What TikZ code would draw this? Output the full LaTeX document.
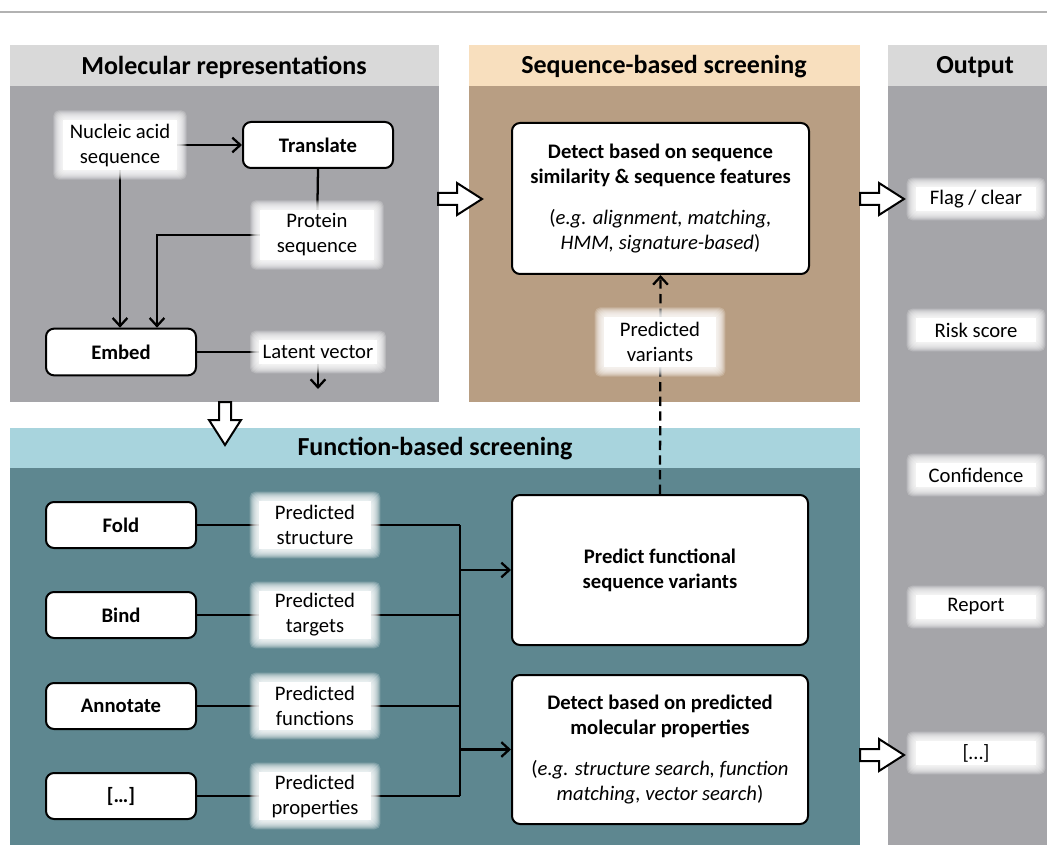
\documentclass[tikz,border=0pt]{standalone}
\usepackage{fontspec}
\setmainfont{Carlito}
\usetikzlibrary{arrows.meta,calc}
\pgfdeclarelayer{bg}\pgfdeclarelayer{lines}\pgfdeclarelayer{glowl}
\pgfsetlayers{bg,lines,glowl,main}
\definecolor{hdrgray}{RGB}{217,217,217}
\definecolor{bodygray}{RGB}{165,165,169}
\definecolor{hdrwheat}{RGB}{248,223,190}
\definecolor{bodytan}{RGB}{184,158,131}
\definecolor{hdrblue}{RGB}{168,212,221}
\definecolor{bodyteal}{RGB}{94,135,144}
\definecolor{topline}{RGB}{178,178,178}
\begin{document}
\begin{tikzpicture}[x=0.75pt,y=-0.75pt,
  hdr/.style={font=\bfseries\fontsize{19.5}{23}\selectfont},
  stepbox/.style={draw=black,line width=1.5pt,rounded corners=6pt,fill=white,
    minimum width=112.5pt,minimum height=34.5pt,align=center,
    font=\bfseries\fontsize{15.5}{18.75}\selectfont},
  bigbox/.style={draw=black,line width=1.5pt,rounded corners=6pt,fill=white,
    minimum width=222pt,minimum height=112.5pt,align=center,
    font=\fontsize{15.5}{18.75}\selectfont},
  glow/.style={fill=white,inner sep=0pt,align=center,
    font=\fontsize{15.5}{18.75}\selectfont},
  conn/.style={line width=1.7pt,draw=black},
  arr/.style={conn,-{Straight Barb[length=6pt,width=11pt]}},
  blockarr/.style={draw=black,fill=white,line width=1.5pt,line join=miter}
]
\useasboundingbox (0,0) rectangle (1047,845);
\begin{pgfonlayer}{bg}
  \fill[white] (0,0) rectangle (1047,845);
  \draw[topline,line width=1.5pt] (0,12) -- (1047,12);
  \fill[hdrgray] (10,45) rectangle (439,86);
  \fill[bodygray] (10,86) rectangle (439,402);
  \fill[hdrwheat] (469,45) rectangle (860,86);
  \fill[bodytan] (469,86) rectangle (860,402);
  \fill[hdrgray] (888,45) rectangle (1047,86);
  \fill[bodygray] (888,86) rectangle (1047,845);
  \fill[hdrblue] (10,428) rectangle (860,468);
  \fill[bodyteal] (10,468) rectangle (860,845);
\end{pgfonlayer}

% headers
\node[hdr] (hmol) at (224,67) {Molecular representations};
\node[hdr] (hseq) at (664,67) {Sequence-based screening};
\node[hdr] (hout) at (975,67) {Output};
\node[hdr] (hfun) at (435,449) {Function-based screening};

% molecular representations
\node[glow,minimum width=86pt,minimum height=38pt] (nuc) at (120,145) {Nucleic acid\\sequence};
\node[stepbox] (tr) at (318,145) {Translate};
\node[glow,minimum width=86pt,minimum height=38pt] (prot) at (317,235) {Protein\\sequence};
\node[stepbox,minimum height=35pt] (emb) at (121,352) {Embed};
\node[glow,minimum width=88pt,minimum height=18pt] (lat) at (318,352) {Latent vector};
\coordinate (latend) at (318,389);
\coordinate (pe) at (157,352);

% sequence-based
\node[bigbox,minimum width=222.75pt,minimum height=113.25pt] (sbox) at (660.5,198.5)
  {\textbf{Detect based on sequence}\\\textbf{similarity \& sequence features}\\[12pt]
   ({\itshape e.g. alignment, matching,}\\{\itshape HMM, signature-based})};
\node[glow,minimum width=84pt,minimum height=38pt] (pvar) at (660,342) {Predicted\\variants};

% function-based
\node[stepbox] (fold) at (121,525) {Fold};
\node[stepbox] (bind) at (121,615) {Bind};
\node[stepbox] (anno) at (121,706) {Annotate};
\node[stepbox] (etc) at (121,796) {[…]};
\node[glow,minimum width=84pt,minimum height=36pt] (pstr) at (315,525) {Predicted\\structure};
\node[glow,minimum width=84pt,minimum height=36pt] (ptar) at (315,615) {Predicted\\targets};
\node[glow,minimum width=84pt,minimum height=36pt] (pfun) at (315,706) {Predicted\\functions};
\node[glow,minimum width=84pt,minimum height=36pt] (ppro) at (315,796) {Predicted\\properties};
\coordinate (busT) at (460,525);
\coordinate (busB) at (460,796);
\node[bigbox] (pfv) at (660,570) {\textbf{Predict functional}\\\textbf{sequence variants}};
\node[bigbox,minimum height=111.75pt] (dpp) at (660,749.5)
  {\textbf{Detect based on predicted}\\\textbf{molecular properties}\\[12pt]
   ({\itshape e.g. structure search, function}\\{\itshape matching, vector search})};

% output
\node[glow,minimum width=90pt,minimum height=18pt] (o1) at (976,199) {Flag / clear};
\node[glow,minimum width=90pt,minimum height=18pt] (o2) at (976,330) {Risk score};
\node[glow,minimum width=90pt,minimum height=18pt] (o3) at (976,475) {Confidence};
\node[glow,minimum width=90pt,minimum height=18pt] (o4) at (976,607) {Report};
\node[glow,minimum width=90pt,minimum height=18pt] (o5) at (976,753) {[…]};

% soft white halo round the label nodes
\begin{pgfonlayer}{glowl}
  \foreach \n in {nuc,prot,lat,pvar,pstr,ptar,pfun,ppro,o1,o2,o3,o4,o5}{
    \foreach \d in {1,...,9}{
      \fill[white,opacity=0.2,rounded corners=4pt]
        ($(\n.south west)+(-\d,\d)$) rectangle ($(\n.north east)+(\d,-\d)$);
    }
  }
\end{pgfonlayer}

% connectors
\begin{pgfonlayer}{lines}
  \draw[arr] (nuc.center) -- (tr.west);
  \draw[arr] (nuc.center) -- (nuc.center |- emb.north);
  \draw[conn] (tr.south) -- (prot.center);
  \draw[arr] (prot.center) -| (pe |- emb.north);
  \draw[conn] (emb.east) -- (lat.center);
  \draw[arr] (lat.center) -- (latend);
  \draw[arr,dash pattern=on 7pt off 4pt] (pfv.north) -- (sbox.south);
  \draw[conn] (fold.east) -- (busT);
  \draw[conn] (bind.east) -- (bind.east -| busT);
  \draw[conn] (anno.east) -- (anno.east -| busT);
  \draw[conn] (etc.east) -- (busB);
  \draw[conn] (busT) -- (busB);
  \draw[arr] (busT |- pfv.west) -- (pfv.west);
  \draw[arr] (busT |- dpp.west) -- (dpp.west);
\end{pgfonlayer}

% block arrows
\draw[blockarr] (438,199) ++(0,-6) -- ++(19,0) -- ++(0,-10) -- ++(25,16) -- ++(-25,16) -- ++(0,-10) -- ++(-19,0) -- cycle;
\draw[blockarr] (860,199) ++(0,-6) -- ++(19,0) -- ++(0,-10) -- ++(25,16) -- ++(-25,16) -- ++(0,-10) -- ++(-19,0) -- cycle;
\draw[blockarr] (860,755) ++(0,-6) -- ++(19,0) -- ++(0,-10) -- ++(25,16) -- ++(-25,16) -- ++(0,-10) -- ++(-19,0) -- cycle;
\draw[blockarr] (225,402) ++(-6,0) -- ++(0,18) -- ++(-10,0) -- ++(16,25) -- ++(16,-25) -- ++(-10,0) -- ++(0,-18) -- cycle;
\end{tikzpicture}
\end{document}
